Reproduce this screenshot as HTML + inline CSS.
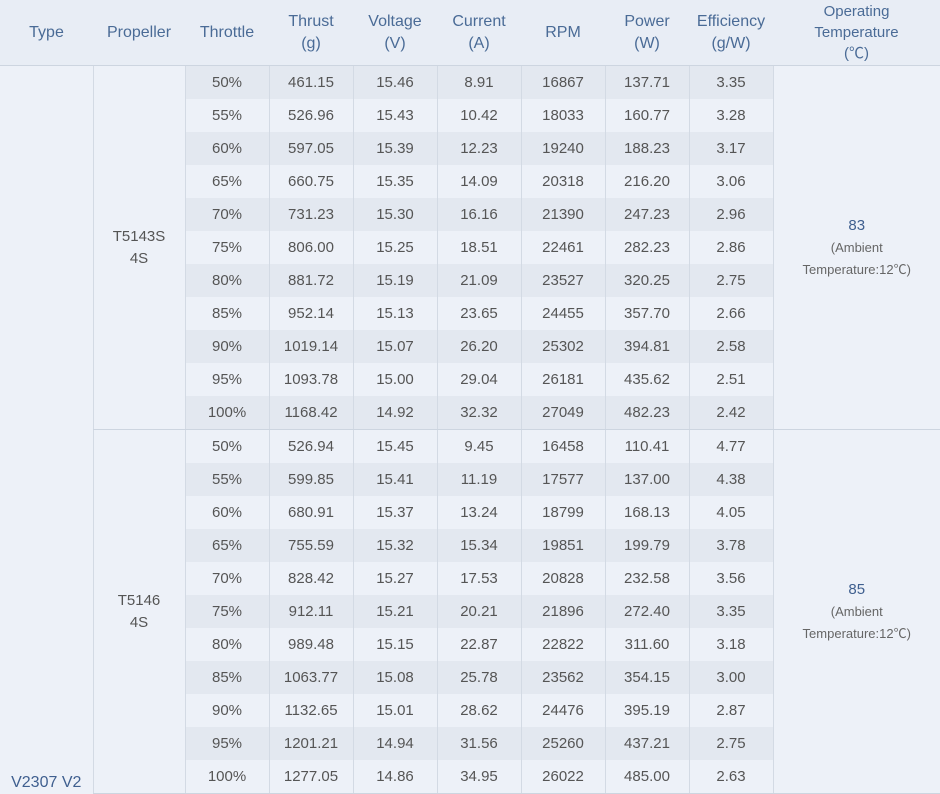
<!DOCTYPE html>
<html><head><meta charset="utf-8"><style>
body{margin:0;width:940px;height:793px;overflow:hidden;background:#edf1f8;font-family:"Liberation Sans","Noto Sans CJK SC",sans-serif;}
table{border-collapse:collapse;table-layout:fixed;width:940px;}
th{height:65px;background:#e8edf5;color:#4a6b96;font-weight:normal;font-size:16px;line-height:22px;border-bottom:1px solid #cdd5e0;padding:0;}
td{height:33px;padding:0;text-align:center;font-size:15px;color:#555;border-left:1px solid #d3dae4;}
tr.o td.d{background:#e3e8f0;}
tr.e td.d{background:#edf1f8;}
td.t{vertical-align:bottom;color:#3f5f8f;font-size:16px;border-left:none;padding-bottom:2px;}
td.p{color:#555;line-height:22px;border-bottom:1px solid #cdd5e0;}
td.tp{border-bottom:1px solid #cdd5e0;color:#3f5f8f;font-size:15px;line-height:22px;}
td.tp small{font-size:13px;color:#666;}
tr.last td.d{border-bottom:1px solid #cdd5e0;}
</style></head><body>
<table>
<colgroup><col style="width:93px"><col style="width:92px"><col style="width:84px"><col style="width:84px"><col style="width:84px"><col style="width:84px"><col style="width:84px"><col style="width:84px"><col style="width:84px"><col style="width:167px"></colgroup>
<tr><th>Type</th><th>Propeller</th><th>Throttle</th><th>Thrust<br>(g)</th><th>Voltage<br>(V)</th><th>Current<br>(A)</th><th>RPM</th><th>Power<br>(W)</th><th>Efficiency<br>(g/W)</th><th style="font-size:15px;line-height:21px">Operating<br>Temperature<br>(℃)</th></tr>
<tr class="o"><td class="t" rowspan="22">V2307 V2</td><td class="p" rowspan="11">T5143S<br>4S</td><td class="d">50%</td><td class="d">461.15</td><td class="d">15.46</td><td class="d">8.91</td><td class="d">16867</td><td class="d">137.71</td><td class="d">3.35</td><td class="tp" rowspan="11">83<br><small>(Ambient<br>Temperature:12℃)</small></td></tr>
<tr class="e"><td class="d">55%</td><td class="d">526.96</td><td class="d">15.43</td><td class="d">10.42</td><td class="d">18033</td><td class="d">160.77</td><td class="d">3.28</td></tr>
<tr class="o"><td class="d">60%</td><td class="d">597.05</td><td class="d">15.39</td><td class="d">12.23</td><td class="d">19240</td><td class="d">188.23</td><td class="d">3.17</td></tr>
<tr class="e"><td class="d">65%</td><td class="d">660.75</td><td class="d">15.35</td><td class="d">14.09</td><td class="d">20318</td><td class="d">216.20</td><td class="d">3.06</td></tr>
<tr class="o"><td class="d">70%</td><td class="d">731.23</td><td class="d">15.30</td><td class="d">16.16</td><td class="d">21390</td><td class="d">247.23</td><td class="d">2.96</td></tr>
<tr class="e"><td class="d">75%</td><td class="d">806.00</td><td class="d">15.25</td><td class="d">18.51</td><td class="d">22461</td><td class="d">282.23</td><td class="d">2.86</td></tr>
<tr class="o"><td class="d">80%</td><td class="d">881.72</td><td class="d">15.19</td><td class="d">21.09</td><td class="d">23527</td><td class="d">320.25</td><td class="d">2.75</td></tr>
<tr class="e"><td class="d">85%</td><td class="d">952.14</td><td class="d">15.13</td><td class="d">23.65</td><td class="d">24455</td><td class="d">357.70</td><td class="d">2.66</td></tr>
<tr class="o"><td class="d">90%</td><td class="d">1019.14</td><td class="d">15.07</td><td class="d">26.20</td><td class="d">25302</td><td class="d">394.81</td><td class="d">2.58</td></tr>
<tr class="e"><td class="d">95%</td><td class="d">1093.78</td><td class="d">15.00</td><td class="d">29.04</td><td class="d">26181</td><td class="d">435.62</td><td class="d">2.51</td></tr>
<tr class="o last"><td class="d">100%</td><td class="d">1168.42</td><td class="d">14.92</td><td class="d">32.32</td><td class="d">27049</td><td class="d">482.23</td><td class="d">2.42</td></tr>
<tr class="e"><td class="p" rowspan="11">T5146<br>4S</td><td class="d">50%</td><td class="d">526.94</td><td class="d">15.45</td><td class="d">9.45</td><td class="d">16458</td><td class="d">110.41</td><td class="d">4.77</td><td class="tp" rowspan="11">85<br><small>(Ambient<br>Temperature:12℃)</small></td></tr>
<tr class="o"><td class="d">55%</td><td class="d">599.85</td><td class="d">15.41</td><td class="d">11.19</td><td class="d">17577</td><td class="d">137.00</td><td class="d">4.38</td></tr>
<tr class="e"><td class="d">60%</td><td class="d">680.91</td><td class="d">15.37</td><td class="d">13.24</td><td class="d">18799</td><td class="d">168.13</td><td class="d">4.05</td></tr>
<tr class="o"><td class="d">65%</td><td class="d">755.59</td><td class="d">15.32</td><td class="d">15.34</td><td class="d">19851</td><td class="d">199.79</td><td class="d">3.78</td></tr>
<tr class="e"><td class="d">70%</td><td class="d">828.42</td><td class="d">15.27</td><td class="d">17.53</td><td class="d">20828</td><td class="d">232.58</td><td class="d">3.56</td></tr>
<tr class="o"><td class="d">75%</td><td class="d">912.11</td><td class="d">15.21</td><td class="d">20.21</td><td class="d">21896</td><td class="d">272.40</td><td class="d">3.35</td></tr>
<tr class="e"><td class="d">80%</td><td class="d">989.48</td><td class="d">15.15</td><td class="d">22.87</td><td class="d">22822</td><td class="d">311.60</td><td class="d">3.18</td></tr>
<tr class="o"><td class="d">85%</td><td class="d">1063.77</td><td class="d">15.08</td><td class="d">25.78</td><td class="d">23562</td><td class="d">354.15</td><td class="d">3.00</td></tr>
<tr class="e"><td class="d">90%</td><td class="d">1132.65</td><td class="d">15.01</td><td class="d">28.62</td><td class="d">24476</td><td class="d">395.19</td><td class="d">2.87</td></tr>
<tr class="o"><td class="d">95%</td><td class="d">1201.21</td><td class="d">14.94</td><td class="d">31.56</td><td class="d">25260</td><td class="d">437.21</td><td class="d">2.75</td></tr>
<tr class="e last"><td class="d">100%</td><td class="d">1277.05</td><td class="d">14.86</td><td class="d">34.95</td><td class="d">26022</td><td class="d">485.00</td><td class="d">2.63</td></tr>
</table>
</body></html>
